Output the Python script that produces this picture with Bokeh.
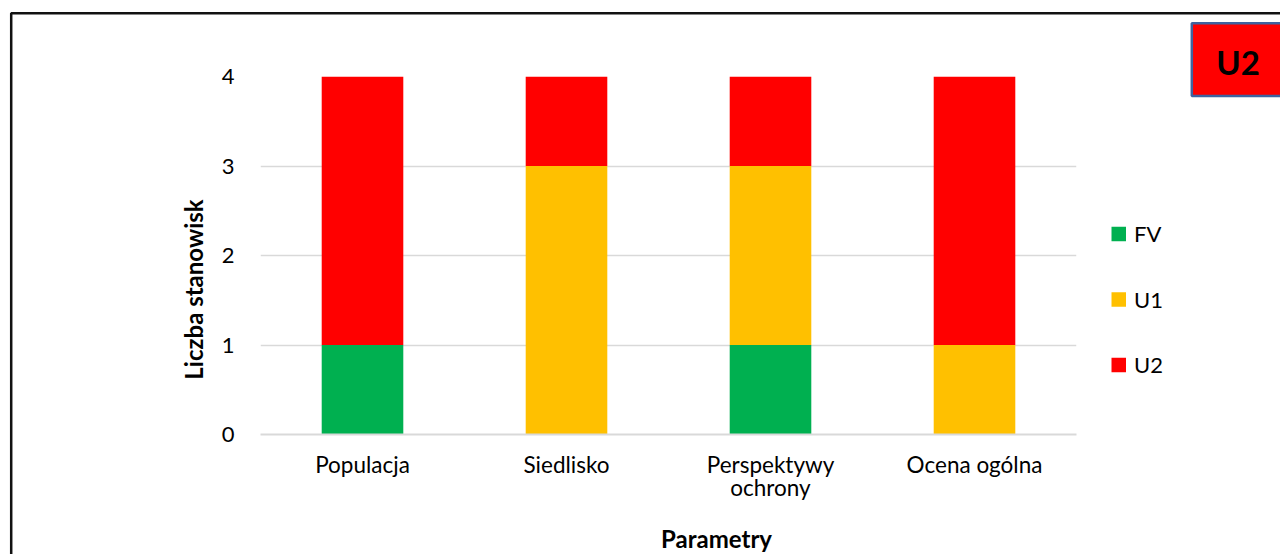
from bokeh.plotting import figure
from bokeh.models import FactorRange, Range1d, FixedTicker
from bokeh.core.properties import value
from bokeh.embed import file_html
from bokeh.resources import INLINE
import math

categories = ["Populacja", "Siedlisko", "Perspektywy\nochrony", "Ocena ogólna"]
series_names = ["FV", "U1", "U2"]
fv = [1, 0, 1, 0]
u1 = [0, 3, 2, 1]
u2 = [3, 1, 1, 3]
colors = ["#00B050", "#FFC000", "#FF0000"]
y_ticks = [0, 1, 2, 3, 4]
x_title = "Parametry"
y_title = "Liczba stanowisk"
badge_text = "U2"

FONT = "Lato"
W, H = 1280, 554
FL, FR, FT, FB = 260, 1076, 76, 434   # frame edges in canvas pixels
Y_MAX = 4

data = {"cat": categories, "FV": fv, "U1": u1, "U2": u2}

p = figure(
    width=W, height=H,
    x_range=FactorRange(*categories),
    y_range=Range1d(0, Y_MAX),
    output_backend="svg", toolbar_location=None,
    min_border_left=FL, min_border_right=W - FR,
    min_border_top=FT, min_border_bottom=H - FB,
)
p.outline_line_color = None
p.background_fill_color = "white"
p.border_fill_color = "white"

# convert canvas pixel positions (for decorations) to the plot's own coordinates
def cx(X):
    return (X - FL) * len(categories) / (FR - FL)

def cy(Y):
    return (FB - Y) * Y_MAX / (FB - FT)

rs = p.vbar_stack(series_names, x="cat", width=0.4, color=colors, source=data, line_color=None)

# grid & axes
p.xgrid.grid_line_color = None
p.ygrid.grid_line_color = "#D9D9D9"
p.ygrid.grid_line_width = 1.5
p.yaxis.ticker = FixedTicker(ticks=y_ticks)
p.yaxis.axis_line_color = None
p.yaxis.major_tick_line_color = None
p.yaxis.minor_tick_line_color = None
p.yaxis.major_tick_out = 0
p.yaxis.major_tick_in = 0
p.yaxis.major_label_standoff = 26
p.yaxis.major_label_text_font = FONT
p.yaxis.major_label_text_font_size = "22px"
p.yaxis.major_label_text_color = "#000000"

p.xaxis.axis_line_color = "#D9D9D9"
p.xaxis.axis_line_width = 1.8
p.xaxis.major_tick_line_color = None
p.xaxis.minor_tick_line_color = None
p.xaxis.major_tick_out = 0
p.xaxis.major_tick_in = 0
p.xaxis.major_label_standoff = 16
p.xaxis.major_label_text_font = FONT
p.xaxis.major_label_text_font_size = "22.5px"
p.xaxis.major_label_text_line_height = 0.87
p.xaxis.major_label_text_color = "#000000"

# legend (drawn beside the plot area from the series names and colours)
LEG_X, LEG_Y0, LEG_STEP, LEG_SQ = 1111, 233.5, 65.5, 14.5
for i, (name, col) in enumerate(zip(series_names, colors)):
    yc = LEG_Y0 + i * LEG_STEP
    p.quad(left=[cx(LEG_X)], right=[cx(LEG_X + LEG_SQ)],
           top=[cy(yc - LEG_SQ / 2)], bottom=[cy(yc + LEG_SQ / 2)],
           fill_color=col, line_color=None, level="overlay")
    p.text(x=[cx(LEG_X + LEG_SQ + 8)], y=[cy(yc - 0.5)], text=[name],
           text_font=value(FONT), text_font_size="22px",
           text_align="left", text_baseline="alphabetic", text_color="#000000", level="overlay")

# axis titles (drawn as unclipped text glyphs)
p.text(x=[cx(716)], y=[cy(538)], text=[x_title],
       text_font=value(FONT), text_font_style="bold", text_font_size="24px",
       text_align="center", text_baseline="alphabetic", text_color="#000000", level="overlay")
p.text(x=[cx(193)], y=[cy(289)], text=[y_title], angle=math.pi / 2,
       text_font=value(FONT), text_font_style="bold", text_font_size="24px",
       text_align="center", text_baseline="alphabetic", text_color="#000000", level="overlay")

# outer chart border (left and top edges visible)
p.line(x=[cx(10.7), cx(10.7), cx(1320)], y=[cy(620), cy(12.8), cy(12.8)],
       line_color="#111111", line_width=2.5, level="overlay")

# U2 badge
p.quad(left=[cx(1191.3)], right=[cx(1330)], top=[cy(22.8)], bottom=[cy(95.5)],
       fill_color="#FF0000", line_color="#3F63A0", line_width=2.5, level="overlay")
p.text(x=[cx(1237.5)], y=[cy(61)], text=[badge_text],
       text_font=value(FONT), text_font_style="bold", text_font_size="33px",
       text_align="center", text_baseline="alphabetic", text_color="#000000", level="overlay")

open("out.html", "w").write(file_html(p, INLINE))
